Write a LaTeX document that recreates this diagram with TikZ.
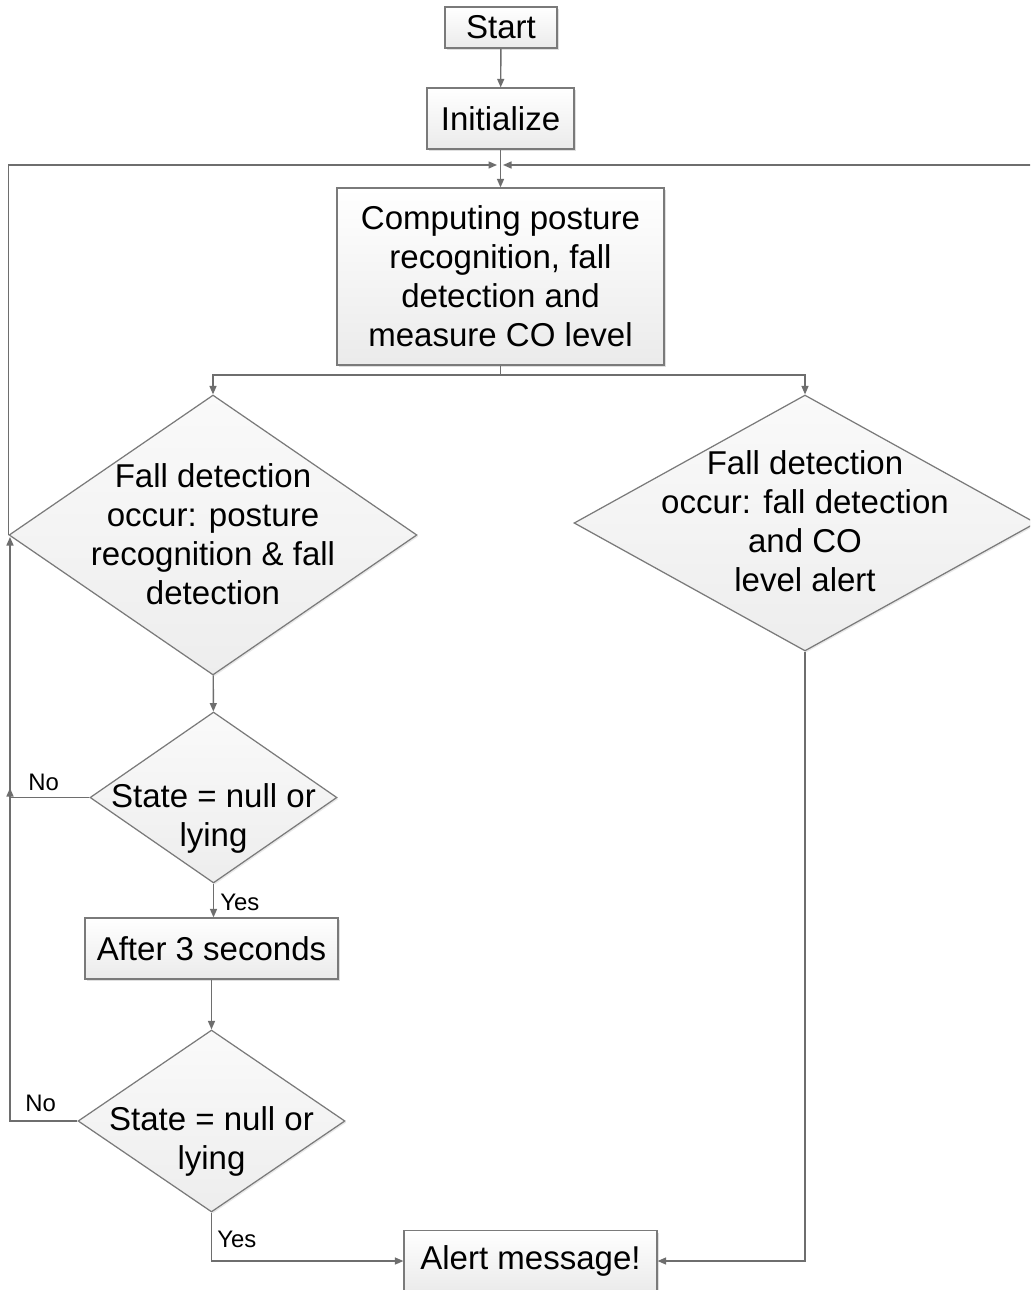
\documentclass[tikz,border=0pt]{standalone}
\usepackage{fontspec}
\setmainfont{Liberation Sans}
\usetikzlibrary{shapes.geometric,arrows.meta,shadows}
\definecolor{edgegray}{HTML}{7A7A7A}
\definecolor{linegray}{HTML}{6E6E6E}
\tikzset{
  px/.style={x=0.02cm,y=-0.02cm},
  maintext/.style={font=\fontsize{18.8}{22.2}\selectfont, text=black, align=center},
  smalltext/.style={font=\fontsize{13.6}{15}\selectfont, text=black, inner sep=0pt},
  procbox/.style={rectangle, draw=edgegray, line width=0.7pt, inner sep=0pt,
    top color=white, bottom color=gray!16, maintext,
    drop shadow={shadow xshift=0.04cm, shadow yshift=-0.04cm, opacity=0.25, fill=gray}},
  decision/.style={diamond, draw=edgegray, line width=0.7pt, inner sep=0pt,
    top color=gray!4, bottom color=gray!14,
    drop shadow={shadow xshift=0.03cm, shadow yshift=-0.03cm, opacity=0.18, fill=gray}},
  flow/.style={draw=linegray, line width=0.8pt,
    -{Triangle[length=0.17cm,width=0.14cm]}},
}
\begin{document}
\begin{tikzpicture}[px]
\clip (0,0) rectangle (1030,1290);
\fill[white] (0,0) rectangle (1030,1290);

% process boxes
\node[procbox, minimum width=2.24cm, minimum height=0.82cm] (start) at (501,27.5) {Start};
\node[procbox, minimum width=2.94cm, minimum height=1.22cm] (init) at (500.5,118.5) {Initialize};
\node[procbox, minimum width=6.54cm, minimum height=3.54cm] (comp) at (500.5,276.5)
  {Computing posture\\recognition, fall\\detection and\\measure CO level};
\node[procbox, minimum width=5.06cm, minimum height=1.22cm] (wait) at (211.5,948.5) {After 3 seconds};
\node[procbox, minimum width=5.06cm, minimum height=1.22cm] (alert) at (530.5,1261) {Alert message!};

% decisions
\node[decision, minimum width=8.16cm, minimum height=5.6cm] (fallL) at (213,535) {};
\node[maintext] (fallLtxt) at (213,534) {Fall detection\\occur: posture\\recognition \& fall\\detection};
\node[decision, minimum width=9.24cm, minimum height=5.12cm] (fallR) at (805,523) {};
\node[maintext] (fallRtxt) at (805,521.5) {Fall detection\\occur: fall detection\\and CO\\level alert};
\node[decision, minimum width=4.94cm, minimum height=3.42cm] (stateA) at (213.5,797.5) {};
\node[maintext] (stateAtxt) at (213.5,818) {State = null or\\lying};
\node[decision, minimum width=5.34cm, minimum height=3.64cm] (stateB) at (211.5,1121) {};
\node[maintext] (stateBtxt) at (211.5,1141) {State = null or\\lying};

% junction points
\coordinate (joinL) at (497,165);
\coordinate (joinR) at (503,165);
\coordinate (rightEnd) at (1040,165);
\coordinate (split) at (500.5,375);
\coordinate (backA) at (10,537);
\coordinate (backB) at (10,788);

% main flow
\draw[flow] (start) -- (init);
\draw[flow] (init) -- (comp);
\draw[flow] (comp.south) -- (split) -| (fallL.north);
\draw[flow] (split) -| (fallR.north);
\draw[flow] (fallL) -- (stateA);
\draw[flow] (stateA.south) -- (stateA.south |- wait.north);
\draw[flow] (wait.south) -- (stateB.north);
\draw[flow] (stateB.south) |- (alert.west);
\draw[flow] (fallR.south) |- (alert.east);

% loop back connectors
\draw[flow] (fallL.west) |- (joinL);
\draw[flow] (rightEnd) -- (joinR);
\draw[flow] (stateA.west) -| (backA);
\draw[flow] (stateB.west) -| (backB);

% branch labels
\node[smalltext, anchor=west] (yesA) at (220,902) {Yes};
\node[smalltext, anchor=west] (yesB) at (217,1239) {Yes};
\node[smalltext, anchor=west] (noA) at (28,782) {No};
\node[smalltext, anchor=west] (noB) at (25,1103) {No};
\end{tikzpicture}
\end{document}
